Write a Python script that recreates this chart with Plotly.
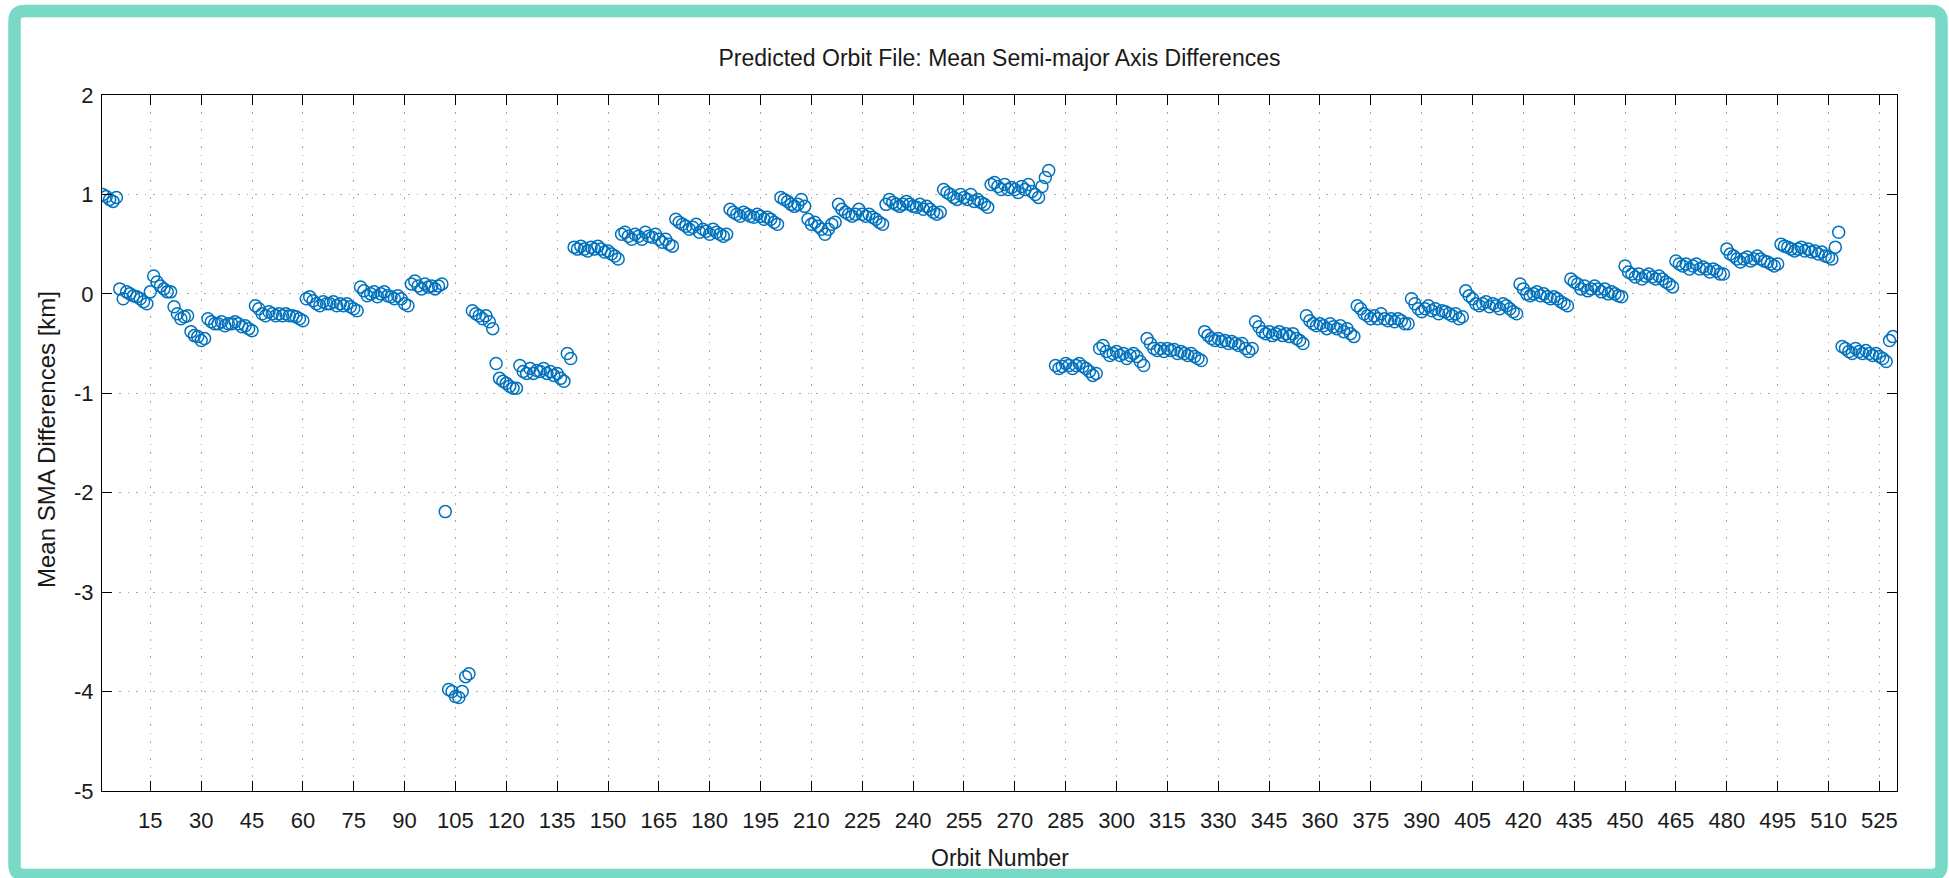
import plotly.graph_objects as go

# ---------------- data ----------------
# Arc A: orbits 1 .. 101
arcA_start = 1
arcA_sma = [1.0, 0.98, 0.95, 0.93, 0.97,
            0.05, -0.05, 0.02, 0.0, -0.02, -0.03, -0.05, -0.08, -0.1,
            0.02, 0.18, 0.12, 0.08, 0.05, 0.02, 0.02,
            -0.13, -0.2, -0.25, -0.23, -0.22,
            -0.38, -0.42, -0.43, -0.47, -0.45,
            -0.25, -0.28, -0.3, -0.3, -0.28, -0.32, -0.3, -0.3, -0.28, -0.3, -0.33, -0.32, -0.35, -0.37,
            -0.12, -0.15, -0.2, -0.22, -0.18, -0.2, -0.22, -0.2, -0.22, -0.2, -0.22, -0.22, -0.23, -0.25, -0.27,
            -0.05, -0.03, -0.07, -0.1, -0.12, -0.08, -0.1, -0.1, -0.08, -0.12, -0.1, -0.12, -0.1, -0.13, -0.15, -0.17,
            0.07, 0.03, -0.02, 0.0, 0.02, -0.03, 0.0, 0.02, -0.02, -0.03, -0.05, -0.02, -0.05, -0.1, -0.12,
            0.1, 0.13, 0.08, 0.05, 0.1, 0.07, 0.08, 0.05, 0.08, 0.1]

# Arc B: orbits 102 .. 139
arcB_start = 102
arcB_sma = [-2.19,
            -3.98, -4.0, -4.05, -4.06, -4.0, -3.85, -3.82,
            -0.17, -0.2, -0.22, -0.25, -0.22, -0.28, -0.35,
            -0.7,
            -0.85, -0.88, -0.9, -0.93, -0.95, -0.95,
            -0.72, -0.78, -0.8, -0.75, -0.8, -0.77, -0.78, -0.75, -0.8, -0.78, -0.82, -0.8, -0.85, -0.88,
            -0.6, -0.65]

# Arc C: orbits 140 .. 280
arcC_start = 140
arcC_sma = [0.47, 0.45, 0.48, 0.45, 0.43, 0.47, 0.45, 0.48, 0.45, 0.42, 0.43, 0.4, 0.38, 0.35,
            0.6, 0.62, 0.58, 0.55, 0.6, 0.58, 0.55, 0.62, 0.58, 0.57, 0.6, 0.55, 0.52, 0.55, 0.5, 0.48,
            0.75, 0.72, 0.7, 0.68, 0.65, 0.67, 0.7, 0.62, 0.65, 0.63, 0.6, 0.65, 0.62, 0.6, 0.58, 0.6,
            0.85, 0.82, 0.8, 0.78, 0.82, 0.8, 0.78, 0.77, 0.8, 0.78, 0.75, 0.77, 0.75, 0.72, 0.7,
            0.97, 0.95, 0.93, 0.9, 0.88, 0.9, 0.95, 0.88,
            0.75, 0.7, 0.72, 0.68, 0.65, 0.6, 0.65, 0.7, 0.72,
            0.9, 0.85, 0.82, 0.8, 0.78, 0.8, 0.85, 0.8, 0.78, 0.8, 0.77, 0.75, 0.72, 0.7,
            0.9, 0.95, 0.92, 0.9, 0.88, 0.9, 0.93, 0.9, 0.88, 0.87, 0.9, 0.85, 0.88, 0.85, 0.82, 0.8, 0.82,
            1.05, 1.02, 1.0, 0.97, 0.95, 1.0, 0.97, 0.95, 1.0, 0.93, 0.95, 0.92, 0.9, 0.87,
            1.1, 1.12, 1.08, 1.05, 1.1, 1.05, 1.07, 1.05, 1.02, 1.08, 1.05, 1.1, 1.03, 1.0, 0.97, 1.08, 1.17, 1.24]

# Arc D: orbits 282 .. 529
arcD_start = 282
arcD_sma = [-0.72, -0.75, -0.73, -0.7, -0.72, -0.75, -0.72, -0.7, -0.73, -0.75, -0.78, -0.82, -0.8,
            -0.55, -0.52, -0.58, -0.62, -0.6, -0.58, -0.62, -0.6, -0.65, -0.62, -0.6, -0.63, -0.68, -0.72,
            -0.45, -0.5, -0.55, -0.57, -0.55, -0.58, -0.55, -0.57, -0.56, -0.6, -0.58, -0.6, -0.62, -0.6, -0.63, -0.65, -0.67,
            -0.38, -0.42, -0.45, -0.47, -0.45, -0.48, -0.47, -0.5, -0.48, -0.5, -0.52, -0.5, -0.55, -0.58, -0.55,
            -0.28, -0.33, -0.38, -0.4, -0.38, -0.42, -0.4, -0.38, -0.42, -0.4, -0.43, -0.4, -0.45, -0.47, -0.5,
            -0.22, -0.27, -0.3, -0.32, -0.3, -0.32, -0.35, -0.3, -0.33, -0.35, -0.32, -0.38, -0.35, -0.4, -0.43,
            -0.12, -0.15, -0.2, -0.22, -0.25, -0.22, -0.25, -0.2, -0.25, -0.27, -0.25, -0.28, -0.25, -0.27, -0.3, -0.3,
            -0.05, -0.1, -0.15, -0.18, -0.15, -0.12, -0.17, -0.15, -0.2, -0.17, -0.18, -0.2, -0.22, -0.2, -0.25, -0.23,
            0.03, -0.02, -0.05, -0.1, -0.12, -0.1, -0.08, -0.13, -0.1, -0.12, -0.15, -0.1, -0.12, -0.15, -0.18, -0.2,
            0.1, 0.05, 0.0, -0.02, 0.0, 0.02, -0.02, 0.0, -0.03, -0.05, -0.03, -0.05, -0.08, -0.1, -0.12,
            0.15, 0.12, 0.1, 0.05, 0.08, 0.03, 0.05, 0.08, 0.05, 0.02, 0.05, 0.0, 0.02, 0.0, -0.02, -0.03,
            0.28, 0.22, 0.2, 0.17, 0.2, 0.15, 0.18, 0.2, 0.17, 0.15, 0.18, 0.15, 0.12, 0.1, 0.07,
            0.33, 0.3, 0.28, 0.3, 0.25, 0.28, 0.3, 0.25, 0.27, 0.25, 0.22, 0.25, 0.23, 0.2, 0.2,
            0.45, 0.4, 0.38, 0.35, 0.32, 0.35, 0.37, 0.33, 0.35, 0.38, 0.35, 0.33, 0.32, 0.3, 0.28, 0.3,
            0.5, 0.48, 0.47, 0.45, 0.43, 0.45, 0.47, 0.43, 0.45, 0.42, 0.43, 0.4, 0.42, 0.38, 0.37, 0.35,
            0.47, 0.62,
            -0.53, -0.55, -0.58, -0.6, -0.55, -0.58, -0.6, -0.57, -0.6, -0.62, -0.6, -0.63, -0.65, -0.68,
            -0.47, -0.43]

x_tickvals = [15, 30, 45, 60, 75, 90, 105, 120, 135, 150, 165, 180, 195, 210, 225, 240,
              255, 270, 285, 300, 315, 330, 345, 360, 375, 390, 405, 420, 435, 450, 465,
              480, 495, 510, 525]
y_tickvals = [2, 1, 0, -1, -2, -3, -4, -5]

# ---------------- figure ----------------
orbits = []
sma = []
for start, vals in [(arcA_start, arcA_sma), (arcB_start, arcB_sma),
                    (arcC_start, arcC_sma), (arcD_start, arcD_sma)]:
    orbits += [start + i for i in range(len(vals))]
    sma += vals

W, H = 1949, 878
L, R, T, B = 102, 52, 95, 87
PW, PH = W - L - R, H - T - B

def px(x):
    return (x - L) / PW

def py(y):
    return (H - B - y) / PH

BLUE = "#0072BD"
FONT = "Liberation Sans, Arial, Helvetica, sans-serif"
TXT = "#1a1a1a"

fig = go.Figure()
fig.add_trace(go.Scatter(
    x=orbits, y=sma, mode="markers",
    marker=dict(symbol="circle-open", size=12, color=BLUE, line=dict(width=1.5)),
    showlegend=False,
))

axis_common = dict(
    showline=True, linecolor="#000000", linewidth=1.3, mirror="ticks",
    ticks="inside", ticklen=10, tickwidth=1.2, tickcolor="#000000",
    showgrid=True, gridcolor="#a8a8a8", griddash="1.5px,7px", gridwidth=1.2,
    zeroline=False,
    tickfont=dict(family=FONT, size=22, color=TXT),
)

fig.update_xaxes(
    range=[0.75, 530.2], tickmode="array", tickvals=x_tickvals,
    ticktext=[str(v) for v in x_tickvals], ticklabelstandoff=9,
    **axis_common,
)
fig.update_yaxes(
    range=[-5, 2], tickmode="array", tickvals=y_tickvals,
    ticktext=[str(v) for v in y_tickvals], ticklabelstandoff=3,
    **axis_common,
)

# rounded teal frame around the whole picture
x0, y0, x1, y1, r = px(14.5), py(11), px(1941.5), py(875), 10
rx, ry = r / PW, r / PH
path = (f"M {x0 + rx} {y0} L {x1 - rx} {y0} Q {x1} {y0} {x1} {y0 - ry} "
        f"L {x1} {y1 + ry} Q {x1} {y1} {x1 - rx} {y1} "
        f"L {x0 + rx} {y1} Q {x0} {y1} {x0} {y1 + ry} "
        f"L {x0} {y0 - ry} Q {x0} {y0} {x0 + rx} {y0} Z")

fig.update_layout(
    width=W, height=H,
    margin=dict(l=L, r=R, t=T, b=B, pad=0),
    paper_bgcolor="#ffffff", plot_bgcolor="#ffffff",
    title=dict(text="Predicted Orbit File: Mean Semi-major Axis Differences",
               x=0.5, xref="paper", xanchor="center",
               y=1 - 58 / H, yref="container", yanchor="middle",
               font=dict(family=FONT, size=23, color=TXT)),
    annotations=[
        dict(text="Orbit Number", xref="paper", yref="paper",
             x=px(1000), y=py(858), xanchor="center", yanchor="middle",
             showarrow=False, font=dict(family=FONT, size=23, color=TXT)),
        dict(text="Mean SMA Differences [km]", xref="paper", yref="paper",
             x=px(46), y=py(440), xanchor="center", yanchor="middle", textangle=-90,
             showarrow=False, font=dict(family=FONT, size=24, color=TXT)),
    ],
    shapes=[dict(type="path", path=path, xref="paper", yref="paper",
                 line=dict(color="#78D9C6", width=12.5), fillcolor="rgba(0,0,0,0)",
                 layer="above")],
    font=dict(family=FONT),
)

fig.write_html(
    "out.html",
    config={"displayModeBar": False},
    post_script="document.body.style.margin='0';document.body.style.padding='0';"
                "document.body.style.overflow='hidden';"
                "document.documentElement.style.overflow='hidden';",
)
